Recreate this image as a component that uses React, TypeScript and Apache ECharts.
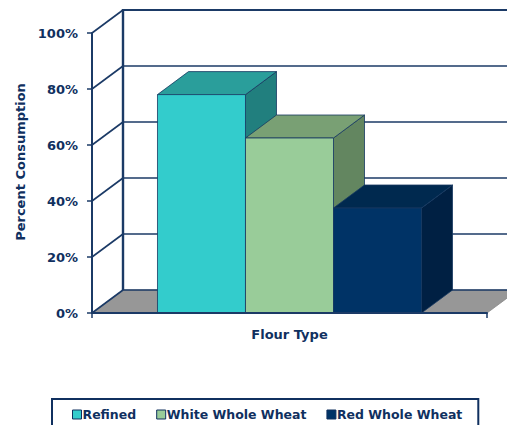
import React, { useEffect, useRef } from "react";
import * as echarts from "echarts";

const categories = ["Flour Type"];
const seriesNames = ["Refined", "White Whole Wheat", "Red Whole Wheat"];
const seriesValues = [78, 62.5, 37.5];
const yTicks = [0, 20, 40, 60, 80, 100];

const NAVY = "#10305f";
const LINE = "#1b3a66";
const FONT = "DejaVu Sans";
const DX = 31;
const DY = -23;
const BAR_FRAC = 0.2228;
const faceColors = [
  { front: "#33cccc", top: "#2a9e9b", side: "#217f7e" },
  { front: "#99cc99", top: "#79a074", side: "#638660" },
  { front: "#003366", top: "#00294f", side: "#002043" },
];

export default function App() {
  const ref = useRef<HTMLDivElement>(null);
  useEffect(() => {
    if (!ref.current) return;
    const chart = echarts.init(ref.current, undefined, { renderer: "svg" });

    const frameSeries = {
      type: "custom",
      name: "frame",
      z: 1,
      silent: true,
      data: yTicks.map((v) => [0, v]),
      encode: { x: 0, y: 1 },
      renderItem: (params: any, api: any) => {
        const cs = params.coordSys;
        const v = api.value(1);
        const y = api.coord([0, v])[1];
        const y0 = api.coord([0, 0])[1];
        const x0 = cs.x;
        const x1 = cs.x + cs.width;
        const children: any[] = [];
        if (v === 0) {
          children.push({
            type: "polygon",
            shape: { points: [[x0, y], [x1, y], [x1 + DX, y + DY], [x0 + DX, y + DY]] },
            style: { fill: "#979797", stroke: "#8a8a8a", lineWidth: 0.8 },
          });
        }
        children.push({
          type: "line",
          shape: { x1: x0 + DX, y1: y + DY, x2: x1 + DX + 10, y2: y + DY },
          style: { stroke: LINE, lineWidth: v === 100 ? 2.2 : 1.6 },
        });
        children.push({
          type: "line",
          shape: { x1: x0, y1: y, x2: x0 + DX, y2: y + DY },
          style: { stroke: LINE, lineWidth: 1.6 },
        });
        if (v === 100) {
          children.push({
            type: "line",
            shape: { x1: x0 + DX, y1: y + DY - 1, x2: x0 + DX, y2: y0 + DY },
            style: { stroke: LINE, lineWidth: 2.4 },
          });
        }
        return { type: "group", children };
      },
    };

    const barSeries = seriesNames.map((name, i) => ({
      type: "custom",
      name,
      z: 2,
      itemStyle: { color: faceColors[i].front },
      data: [[0, seriesValues[i]]],
      encode: { x: 0, y: 1 },
      renderItem: (params: any, api: any) => {
        const bandW = api.size([1, 0])[0];
        const base = api.coord([api.value(0), 0]);
        const bw = bandW * BAR_FRAC;
        const x0 = base[0] - 1.5 * bw + i * bw;
        const y0 = base[1];
        const yt = api.coord([api.value(0), api.value(1)])[1];
        const stroke = { stroke: "#173861", lineWidth: 0.8 };
        return {
          type: "group",
          children: [
            {
              type: "polygon",
              shape: { points: [[x0 + bw, yt], [x0 + bw + DX, yt + DY], [x0 + bw + DX, y0 + DY], [x0 + bw, y0]] },
              style: { fill: faceColors[i].side, ...stroke },
            },
            {
              type: "polygon",
              shape: { points: [[x0, yt], [x0 + bw, yt], [x0 + bw + DX, yt + DY], [x0 + DX, yt + DY]] },
              style: { fill: faceColors[i].top, ...stroke },
            },
            {
              type: "rect",
              shape: { x: x0, y: yt, width: bw, height: y0 - yt },
              style: { fill: faceColors[i].front, ...stroke },
            },
          ],
        };
      },
    }));

    chart.setOption({
      animation: false,
      grid: { left: 92, right: 20, top: 33, bottom: 112, containLabel: false },
      xAxis: {
        type: "category",
        data: categories,
        boundaryGap: true,
        z: 3,
        name: "Flour Type",
        nameLocation: "middle",
        nameGap: 15,
        nameTextStyle: { fontFamily: FONT, fontWeight: "bold", fontSize: 13, color: NAVY },
        axisLine: { show: true, lineStyle: { color: LINE, width: 2 } },
        axisTick: { show: true, length: 5, lineStyle: { color: LINE, width: 1.5 } },
        axisLabel: { show: false },
        splitLine: { show: false },
      },
      yAxis: {
        type: "value",
        min: 0,
        max: 100,
        interval: 20,
        z: 3,
        axisLine: { show: true, lineStyle: { color: LINE, width: 2 } },
        axisTick: { show: true, length: 5, lineStyle: { color: LINE, width: 1.5 } },
        axisLabel: {
          formatter: "{value}%",
          margin: 14,
          fontFamily: FONT,
          fontWeight: "bold",
          fontSize: 13,
          color: NAVY,
        },
        splitLine: { show: false },
      },
      legend: {
        data: seriesNames,
        left: 52,
        top: 399,
        orient: "horizontal",
        icon: "rect",
        itemWidth: 9,
        itemHeight: 9,
        itemGap: 20,
        padding: [9, 16, 14, 20],
        borderColor: NAVY,
        borderWidth: 2,
        itemStyle: { borderColor: NAVY, borderWidth: 1 },
        textStyle: { fontFamily: FONT, fontWeight: "bold", fontSize: 12.5, color: NAVY, padding: [0, 0, 0, -4] },
      },
      graphic: [
        {
          type: "text",
          x: 20,
          y: 162,
          rotation: Math.PI / 2,
          style: {
            text: "Percent Consumption",
            fontFamily: FONT,
            fontWeight: "bold",
            fontSize: 13,
            fill: NAVY,
            textAlign: "center",
            textVerticalAlign: "middle",
          },
        },
      ],
      series: [frameSeries, ...barSeries],
    });
    return () => chart.dispose();
  }, []);
  return (
    <div
      ref={ref}
      style={{ position: "fixed", left: 0, top: 0, width: 507, height: 425, background: "#ffffff" }}
    />
  );
}
